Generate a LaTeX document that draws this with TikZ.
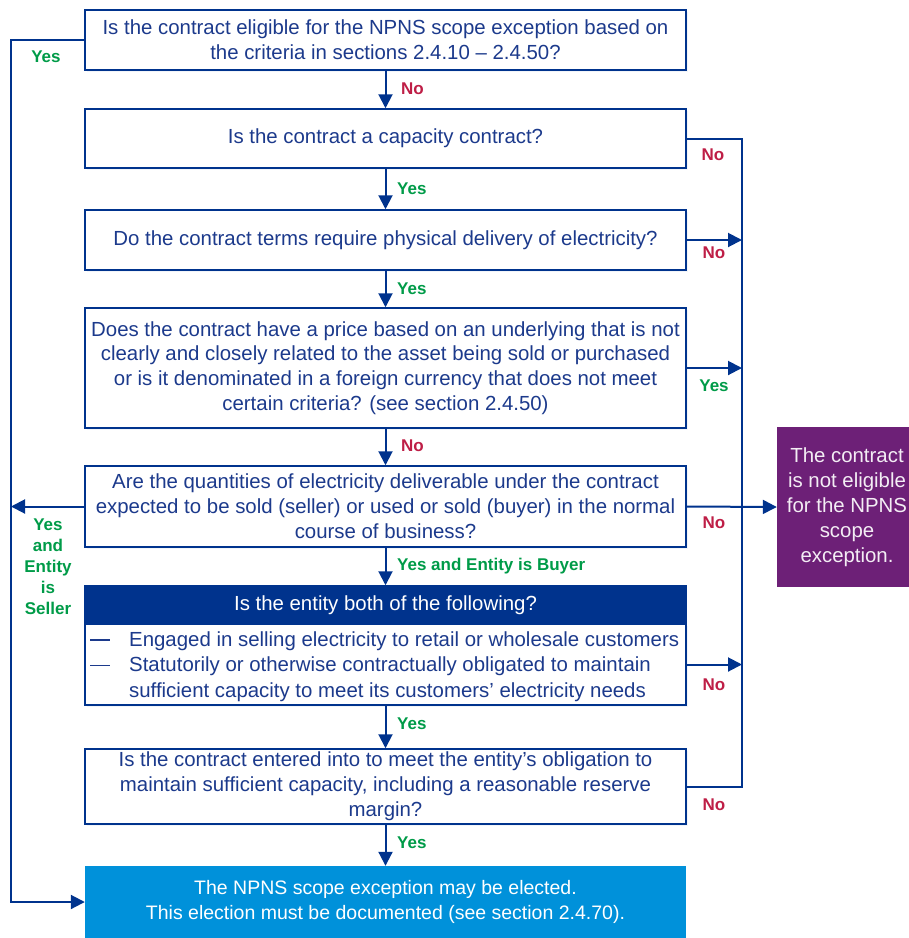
\documentclass[tikz,border=0pt]{standalone}
\usepackage{fontspec}
\setmainfont{Liberation Sans}
\usetikzlibrary{arrows.meta,shadows}
\definecolor{kblue}{HTML}{00338D}
\definecolor{ktext}{HTML}{1C3A8C}
\definecolor{kgreen}{RGB}{0,155,72}
\definecolor{kred}{RGB}{190,30,70}
\definecolor{kcyan}{HTML}{0091DA}
\definecolor{kpurple}{HTML}{6D2077}
\newcommand\mainfs{\fontsize{20.4}{24.8}\selectfont}
\newcommand\lblfs{\fontsize{17}{21}\selectfont\bfseries}
\begin{document}
\begin{tikzpicture}[x=1pt,y=-1pt,
  qbox/.style={draw=kblue, line width=1.5pt, fill=white, minimum width=601pt, inner sep=0pt,
    align=center, font=\mainfs, text=ktext,
    drop shadow={opacity=0.10, shadow xshift=1.5pt, shadow yshift=-1.5pt, fill=kblue!50}},
  arr/.style={draw=kblue, line width=2pt, -{Triangle[length=14pt,width=14pt]}},
  ln/.style={draw=kblue, line width=2pt},
  ylbl/.style={font=\lblfs, text=kgreen, inner sep=0pt},
  nlbl/.style={font=\lblfs, text=kred, inner sep=0pt}]
\useasboundingbox (0,0) rectangle (909,938);

\node[qbox, minimum height=60pt] (q1) at (385.5,40)
  {Is the contract eligible for the NPNS scope exception based on\\the criteria in sections 2.4.10 – 2.4.50?};
\node[qbox, minimum height=59pt] (q2) at (385.5,138.5)
  {Is the contract a capacity contract?};
\node[qbox, minimum height=60pt] (q3) at (385.5,240)
  {Do the contract terms require physical delivery of electricity?};
\node[qbox, minimum height=120pt] (q4) at (385.5,368)
  {Does the contract have a price based on an underlying that is not\\clearly and closely related to the asset being sold or purchased\\or is it denominated in a foreign currency that does not meet\\certain criteria? (see section 2.4.50)};
\node[qbox, minimum height=81pt] (q5) at (385.5,506.5)
  {Are the quantities of electricity deliverable under the contract\\expected to be sold (seller) or used or sold (buyer) in the normal\\course of business?};
\node[qbox, minimum height=81pt] (q6b) at (385.5,664.5) {};
\node[inner sep=0pt, font=\mainfs, text=ktext, anchor=west] (q6t) at (90,667)
  {\begin{tabular}{@{}p{39pt}@{}l@{}}
   \rule[6pt]{20pt}{1.3pt} & Engaged in selling electricity to retail or wholesale customers\\[0.4pt]
   \rule[6pt]{20pt}{1.3pt} & Statutorily or otherwise contractually obligated to maintain\\[0.4pt]
   & sufficient capacity to meet its customers’ electricity needs
   \end{tabular}};
\node[draw=kblue, line width=1.5pt, fill=kblue, minimum width=601pt, minimum height=38pt, inner sep=0pt,
  font=\mainfs, text=white] (q6h) at (385.5,605) {Is the entity both of the following?};
\node[qbox, minimum height=75pt] (q7) at (385.5,786.5)
  {Is the contract entered into to meet the entity’s obligation to\\maintain sufficient capacity, including a reasonable reserve\\margin?};
\node[fill=kcyan, minimum width=601pt, minimum height=72pt, inner sep=0pt, align=center,
  font=\fontsize{19.5}{24.5}\selectfont, text=white] (fin) at (385.5,902)
  {The NPNS scope exception may be elected.\\This election must be documented (see section 2.4.70).};
\node[fill=kpurple, minimum width=132pt, minimum height=160pt, inner sep=0pt] (np) at (843,507) {};
\node[inner sep=0pt, align=center, font=\fontsize{20.4}{25}\selectfont, text=white!92!kpurple] (npt) at (847,507)
  {The contract\\is not eligible\\for the NPNS\\scope\\exception.};

\coordinate (lt) at (11,40);
\coordinate (lb) at (11,902);
\coordinate (rt) at (742,138.5);
\coordinate (rb) at (742,786.5);

% main downward flow
\draw[arr] (q1) -- (q2);
\draw[arr] (q2) -- (q3);
\draw[arr] (q3) -- (q4);
\draw[arr] (q4) -- (q5);
\draw[arr] (q5) -- (q6h);
\draw[arr] (q6b) -- (q7);
\draw[arr] (q7) -- (fin);

% left return line
\draw[arr] (q1.west) -- (lt) -- (lb) -- (fin.west);
\draw[arr] (q5.west) -- (q5.west -| lt);

% right collector line
\draw[ln] (q2.east) -- (rt) -- (rb) -- (q7.east);
\draw[arr] (q3.east) -- (q3.east -| rt);
\draw[arr] (q4.east) -- (q4.east -| rt);
\draw[arr] (q6b.east) -- (q6b.east -| rt);
\draw[arr] (q5.east) -- (np.west);

% labels
\node[ylbl] (l1) at (46,57) {Yes};
\node[nlbl, anchor=west] (l2) at (401,89) {No};
\node[nlbl] (l3) at (713,155) {No};
\node[ylbl, anchor=west] (l4) at (397,189) {Yes};
\node[nlbl] (l5) at (714,253) {No};
\node[ylbl, anchor=west] (l6) at (397,289) {Yes};
\node[ylbl] (l7) at (714,386) {Yes};
\node[nlbl, anchor=west] (l8) at (401,446) {No};
\node[nlbl] (l9) at (714,523) {No};
\node[ylbl, anchor=west] (l10) at (397,566) {Yes and Entity is Buyer};
\node[ylbl, align=center] (l11) at (48,567) {Yes\\and\\Entity\\is\\Seller};
\node[nlbl] (l12) at (714,685) {No};
\node[ylbl, anchor=west] (l13) at (397,724) {Yes};
\node[nlbl] (l14) at (714,805) {No};
\node[ylbl, anchor=west] (l15) at (397,843) {Yes};
\end{tikzpicture}
\end{document}
